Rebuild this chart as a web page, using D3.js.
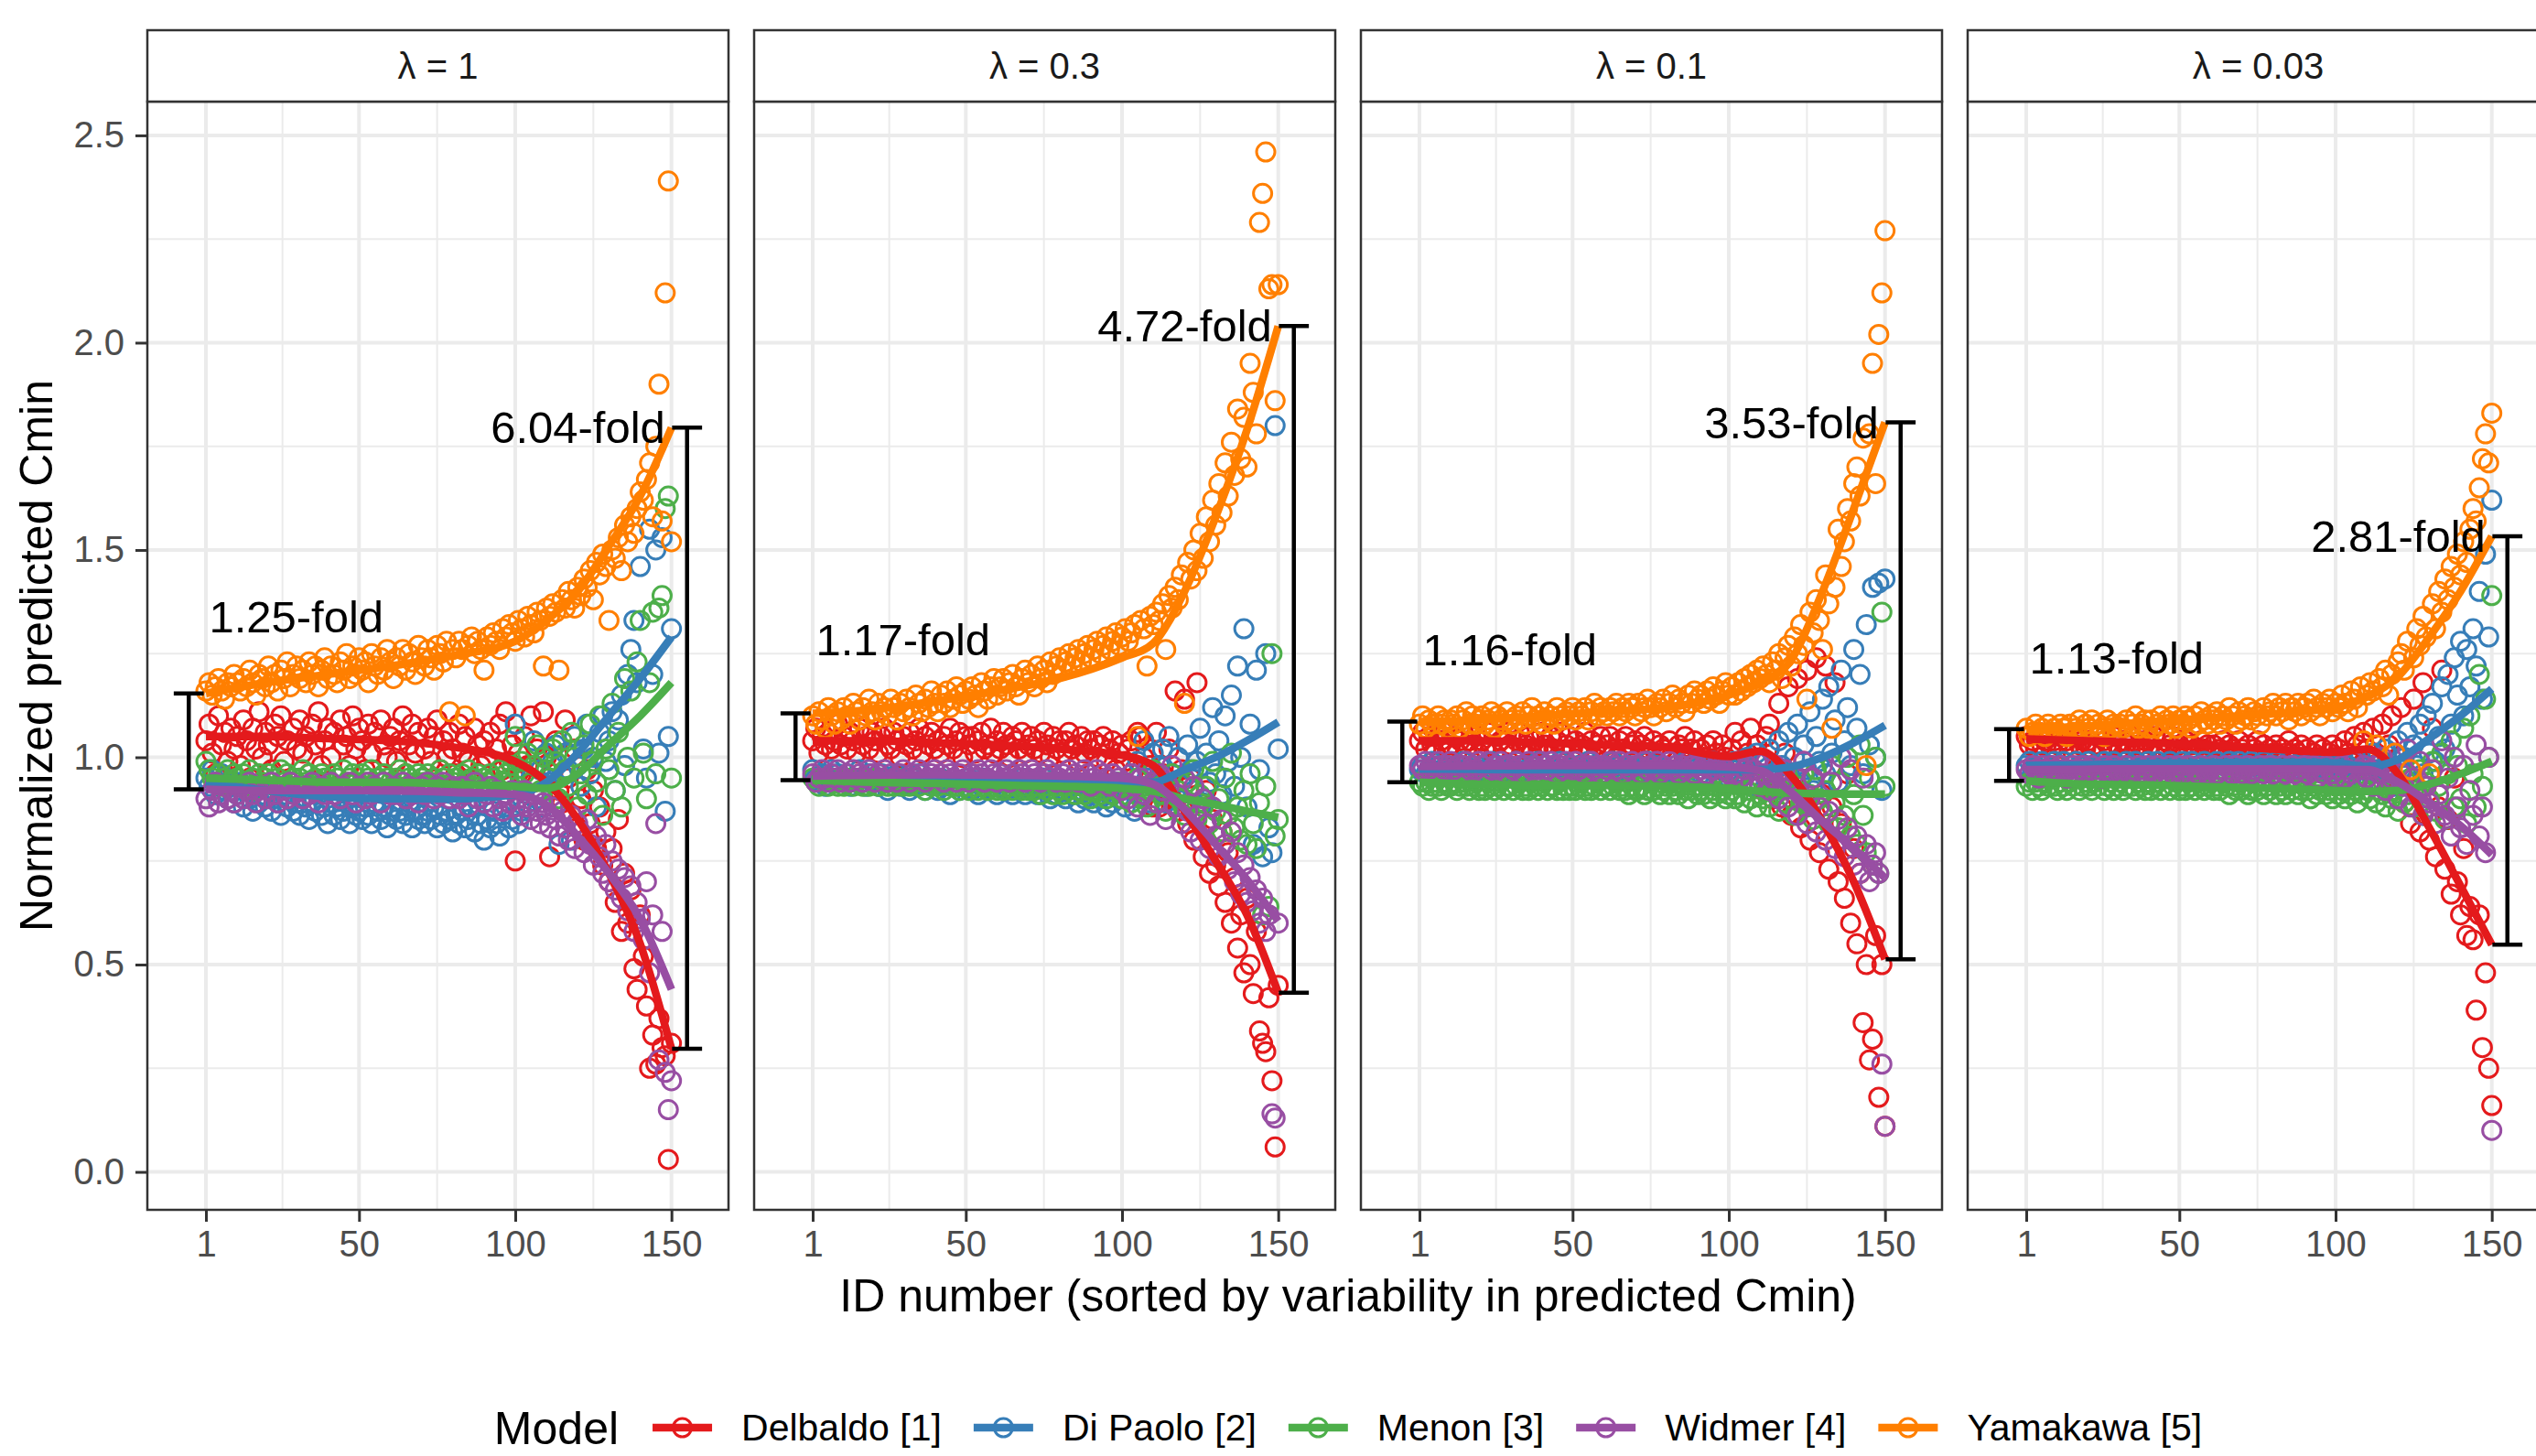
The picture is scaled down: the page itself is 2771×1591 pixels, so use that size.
<!DOCTYPE html>
<html>
<head>
<meta charset="utf-8">
<script src="https://cdn.jsdelivr.net/npm/d3@7"></script>
<style>
  body { margin: 0; background: #fff; }
  svg { display: block; }
  text { font-family: "Liberation Sans", Arial, Helvetica, sans-serif; }
</style>
</head>
<body>
<svg id="chart" width="2771" height="1591"></svg>
<script>

// facets and models
const facetLabels = ['λ = 1', 'λ = 0.3', 'λ = 0.1', 'λ = 0.03'];
const models = ['Delbaldo [1]', 'Di Paolo [2]', 'Menon [3]', 'Widmer [4]', 'Yamakawa [5]'];
const modelColors = ['#E41A1C', '#377EB8', '#4DAF4A', '#984EA3', '#FF7F00'];

// normalized predicted Cmin x100, ID 1..150
// λ = 1
const l1Delbaldo = [104,108,101,96,110,103,106,99,107,102, 105,98,109,104,95,107,102,111,100,106, 103,97,108,105,110,99,104,94,107,102, 109,101,105,96,108,103,111,98,104,107, 100,106,93,109,103,105,98,110,102,107, 104,97,108,101,106,95,109,103,100,105, 107,99,104,110,96,103,108,101,106,93, 102,107,99,105,109,97,104,100,106,102, 96,108,101,105,99,94,107,103,98,104, 100,106,95,102,108,97,111,99,103,75, 101,96,105,98,110,94,102,97,111,100, 76,96,104,92,89,109,95,86,102,83, 90,80,97,84,92,78,88,74,82,70, 78,65,85,58,72,60,68,49,44,62, 52,40,25,33,26,37,30,28,3,31];
const l1DiPaolo = [95,93,97,91,94,96,92,90,93,89, 91,94,88,92,90,87,93,89,91,88, 90,87,92,89,86,91,88,90,87,89, 86,90,88,85,89,87,91,86,88,84, 89,86,88,85,87,90,84,88,86,87, 85,88,86,84,89,87,85,88,83,86, 88,85,87,84,86,89,83,87,85,86, 84,87,85,88,83,86,84,87,85,82, 86,84,87,83,85,88,82,86,84,80, 85,83,87,84,81,86,88,83,85,108, 84,87,92,89,95,104,90,97,88,101, 94,99,103,79,96,101,97,80,105,98, 93,102,108,96,100,88,106,110,99,104, 111,92,109,115,98,120,126,133,118,146, 102,95,155,120,150,101,153,87,105,131];
const l1Menon = [99,97,95,94,96,93,95,97,94,96, 95,93,96,94,97,95,92,96,94,95, 96,94,93,95,97,94,96,93,95,94, 95,97,94,96,93,95,94,96,95,93, 94,96,95,93,97,94,95,96,94,93, 96,94,95,97,93,95,94,96,95,94, 93,95,97,94,96,95,93,94,96,95, 94,96,93,95,94,97,95,93,96,94, 95,93,96,94,97,95,94,96,93,95, 94,96,95,93,97,94,96,95,98,105, 93,99,96,101,94,98,103,92,100,97, 95,102,99,90,104,97,93,106,100,88, 96,103,91,108,99,94,110,86,102,97, 113,92,106,88,119,100,116,95,123,133, 101,90,118,135,96,136,139,160,163,95];
const l1Widmer = [90,88,92,94,89,91,93,90,92,89, 91,93,90,92,94,91,89,92,93,90, 92,94,91,89,93,92,90,94,91,93, 92,90,93,91,94,92,89,93,91,92, 94,91,92,90,93,92,94,91,89,93, 92,90,94,91,93,92,89,94,92,91, 93,91,92,94,90,93,91,92,89,93, 91,94,92,90,93,91,94,92,90,93, 92,90,93,91,88,92,94,90,92,89, 91,93,88,92,90,87,91,89,92,88, 90,86,92,88,85,91,87,84,89,86, 83,88,85,81,87,83,80,86,78,84, 82,77,85,79,74,81,76,72,79,70, 75,68,73,66,71,63,69,58,65,61, 56,70,48,62,84,27,58,24,15,22];
const l1Yamakawa = [116,118,115,117,119,116,114,118,117,120, 118,116,119,117,121,118,115,120,119,117, 122,118,120,116,121,119,123,117,120,122, 119,121,118,123,120,122,117,121,124,119, 122,120,118,123,121,125,119,122,120,124, 121,123,118,125,122,120,124,121,126,123, 119,124,122,126,121,125,123,120,127,124, 122,126,124,121,127,125,123,128,111,126, 124,128,126,110,127,129,125,128,126,121, 129,127,130,128,126,131,129,132,130,128, 133,131,129,134,132,130,135,133,122,136, 134,137,135,121,138,136,140,138,136,141, 139,143,141,145,138,147,144,149,146,133, 150,148,153,145,156,152,158,154,160,164, 162,167,171,158,175,190,157,212,239,152];

// λ = 0.3
const l2Delbaldo = [104,107,101,105,103,106,102,104,108,103, 105,102,106,104,101,107,103,105,102,106, 104,101,105,107,103,102,106,104,100,105, 103,106,102,104,107,101,105,103,106,102, 104,101,105,103,107,102,104,106,100,105, 103,105,101,104,106,102,103,107,101,104, 102,106,103,100,105,104,102,106,101,103, 105,102,104,101,106,103,100,105,102,104, 101,104,106,102,103,99,105,101,104,102, 104,100,103,105,99,102,104,97,101,103, 99,102,104,97,106,105,100,92,98,88, 106,88,96,93,102,90,116,87,97,114, 84,95,80,118,89,76,92,72,85,74, 69,82,65,77,60,71,54,62,48,66, 50,43,58,34,31,29,42,22,6,45];
const l2DiPaolo = [97,95,94,96,93,95,97,94,96,95, 94,96,93,95,94,97,95,93,96,94, 95,93,96,94,92,95,94,96,93,95, 94,92,95,93,96,94,92,95,93,94, 92,95,93,94,91,95,93,92,94,93, 95,92,94,91,93,95,92,94,93,91, 93,95,92,94,91,93,92,95,91,93, 92,94,91,93,95,92,90,93,91,94, 92,90,93,91,94,89,92,90,93,91, 89,92,90,93,88,91,89,94,90,92, 88,93,96,87,99,91,104,95,89,101, 93,98,102,89,105,96,91,100,94,88, 103,97,92,99,107,89,101,94,112,96, 104,91,110,99,115,93,122,100,131,88, 108,79,121,97,76,125,83,77,180,102];
const l2Menon = [95,94,93,95,94,93,95,94,93,94, 93,95,94,93,94,95,93,94,93,95, 94,93,95,94,93,94,93,95,94,93, 94,93,94,95,93,94,92,94,93,94, 93,94,92,94,93,95,93,92,94,93, 92,94,93,92,94,93,92,93,94,92, 93,92,94,93,92,93,94,92,93,92, 94,92,93,91,93,92,94,91,93,92, 91,93,92,94,91,92,93,91,92,90, 92,93,91,92,90,93,91,92,94,90, 91,93,89,92,95,90,93,88,92,97, 89,94,91,87,93,96,88,92,90,86, 94,89,97,85,91,88,93,84,99,87, 90,82,95,86,101,83,88,80,92,79, 96,84,78,89,62,93,64,125,81,85];
const l2Widmer = [96,94,95,97,95,94,96,95,97,94, 95,96,94,97,95,96,94,95,97,96, 94,96,95,97,94,96,95,94,96,97, 95,94,96,95,97,96,94,95,96,97, 95,96,94,97,96,95,94,96,97,95, 94,96,95,97,96,94,95,97,96,94, 96,95,97,94,96,95,97,96,94,95, 97,96,95,94,96,97,95,96,94,95, 96,94,97,95,96,94,95,97,96,93, 95,97,94,96,95,93,96,94,95,92, 94,90,96,93,88,95,91,97,86,94, 89,96,92,85,93,98,88,91,84,95, 87,82,93,86,80,90,84,78,88,81, 76,85,79,73,82,70,77,67,74,65, 71,63,68,60,66,58,62,14,13,60];
const l2Yamakawa = [110,108,111,109,107,112,110,108,111,109, 112,110,108,113,111,109,112,110,114,111, 109,113,111,112,110,114,112,109,113,111, 114,112,110,115,113,111,114,112,116,113, 111,115,113,116,112,114,117,115,113,116, 114,117,115,112,118,116,114,117,119,115, 117,119,116,118,120,117,115,119,121,118, 120,117,122,119,121,118,123,120,122,124, 121,123,125,122,124,126,123,125,127,124, 126,128,125,127,129,126,128,130,127,129, 131,128,130,132,105,133,131,122,134,132, 135,133,137,126,139,136,141,138,144,113, 147,143,150,145,154,148,158,152,162,156, 166,159,171,163,176,168,184,172,182,170, 195,188,178,229,236,246,213,214,186,214];

// λ = 0.1
const l3Delbaldo = [104,106,102,105,103,101,105,104,106,102, 103,105,101,104,106,102,104,103,105,101, 104,102,106,103,101,105,104,102,106,103, 101,104,106,102,103,105,101,104,102,106, 103,101,105,102,104,106,101,103,105,102, 104,101,103,106,102,104,100,103,105,101, 103,105,102,100,104,102,105,101,103,104, 100,103,105,102,101,104,99,103,102,100, 104,101,99,103,102,105,100,102,104,99, 102,100,103,99,104,101,97,103,100,98, 102,106,99,104,96,101,107,94,103,99, 92,105,108,90,97,113,88,101,117,86, 94,119,83,99,121,80,95,124,77,91, 122,73,88,118,70,84,66,96,60,78, 55,72,36,50,27,32,57,18,50,11];
const l3DiPaolo = [97,98,96,97,99,96,98,97,96,98, 97,96,98,97,99,96,97,98,96,97, 98,97,96,99,97,98,96,97,98,96, 97,99,96,98,97,96,98,97,99,96, 98,97,96,98,97,99,96,97,98,96, 97,98,96,97,99,96,98,97,96,98, 96,97,99,96,98,97,96,98,97,95, 98,96,97,99,96,97,98,95,97,96, 97,95,98,96,97,99,95,97,96,98, 96,98,95,97,99,96,94,98,97,95, 97,99,94,98,96,100,93,97,101,95, 99,94,102,96,92,104,98,95,106,93, 100,108,94,103,97,111,92,105,99,114, 96,117,101,109,94,121,104,112,98,126, 107,120,96,132,103,141,100,142,92,143];
const l3Menon = [94,93,94,92,93,94,93,92,94,93, 93,94,92,93,94,93,92,93,94,92, 93,92,94,93,92,93,94,92,93,93, 92,93,94,92,93,92,94,93,92,93, 94,92,93,93,92,94,92,93,92,93, 92,93,94,92,93,92,93,94,92,93, 93,92,93,94,92,93,92,91,93,92, 92,93,91,92,94,92,93,91,92,93, 91,93,92,91,93,92,90,92,93,91, 92,91,93,90,92,91,93,92,90,91, 92,90,91,93,89,92,90,94,88,91, 90,92,88,93,91,87,92,89,95,90, 86,93,89,96,88,91,85,97,90,87, 92,84,98,89,83,94,86,100,81,91, 79,103,86,77,95,74,100,72,135,93];
const l3Widmer = [98,97,99,97,98,96,99,98,97,98, 99,97,98,96,98,99,97,98,97,99, 98,96,99,97,98,97,99,98,96,98, 97,99,98,96,98,99,97,98,97,99, 98,97,99,98,96,98,97,99,98,97, 99,97,98,96,98,99,97,98,96,98, 97,99,98,97,99,96,98,97,99,98, 98,96,99,97,98,97,99,96,98,97, 99,97,98,96,98,97,99,98,96,98, 97,98,96,99,97,98,95,98,97,96, 98,96,99,95,97,98,94,97,99,93, 96,99,92,95,98,90,94,97,88,93, 96,86,91,99,84,90,95,82,88,98, 80,87,94,78,85,100,76,83,97,74, 81,72,95,79,70,74,77,72,26,11];
const l3Yamakawa = [108,110,107,109,108,106,110,108,109,107, 109,108,110,107,109,111,108,110,108,109, 110,108,109,111,107,110,109,108,111,109, 108,110,109,111,108,110,112,109,110,108, 111,109,110,108,112,110,109,111,110,112, 109,111,110,112,109,111,113,110,112,111, 110,112,111,113,110,112,111,113,112,110, 113,111,112,114,112,110,113,112,114,111, 113,115,112,114,113,111,115,113,116,114, 115,113,116,114,117,115,113,116,118,115, 117,115,118,116,119,117,120,118,121,119, 122,120,118,123,121,125,119,124,127,122, 129,125,132,127,114,135,130,138,133,126, 144,137,107,141,155,146,152,160,157,166, 170,163,177,98,178,195,166,202,212,227];

// λ = 0.03
const l4Delbaldo = [105,103,104,102,106,103,104,105,102,104, 103,105,102,104,103,101,105,103,104,102, 104,102,103,105,101,104,103,102,105,103, 102,104,101,103,105,102,103,101,104,102, 103,105,102,101,104,102,103,105,101,103, 102,104,101,103,102,100,104,102,103,101, 103,101,102,104,100,103,102,101,104,102, 101,103,100,102,104,101,103,100,102,101, 103,100,102,101,104,99,102,101,103,100, 102,99,101,103,100,102,98,101,103,100, 102,99,104,101,100,105,103,98,106,102, 99,107,101,97,108,95,103,110,92,100, 112,89,96,84,114,91,82,118,93,80, 107,76,88,121,73,85,67,95,70,62, 78,57,64,56,39,62,30,48,25,16];
const l4DiPaolo = [98,99,97,98,97,99,98,96,98,99, 97,98,99,97,98,96,99,98,97,98, 99,97,98,98,96,99,97,98,99,97, 98,96,99,97,98,99,97,98,96,99, 98,97,99,98,96,98,99,97,98,97, 99,98,97,99,96,98,97,99,98,97, 98,99,97,98,96,99,98,97,99,98, 97,98,99,96,98,97,99,98,97,98, 99,97,98,96,99,98,97,98,99,97, 98,96,99,97,98,97,99,96,98,97, 99,97,96,98,95,99,97,100,94,98, 96,101,97,94,99,102,96,98,93,104, 97,100,106,95,103,98,108,96,110,101, 113,99,105,117,102,120,108,124,115,128, 110,126,117,131,122,140,114,149,129,162];
const l4Menon = [93,94,92,94,93,92,94,93,95,93, 92,94,93,92,94,93,95,92,93,94, 93,92,94,93,95,92,93,94,92,93, 94,92,93,95,93,92,94,93,92,94, 92,93,94,92,93,95,92,93,94,92, 93,92,94,93,92,94,93,92,93,94, 92,93,92,94,93,91,93,92,94,92, 93,91,92,94,92,93,91,93,92,94, 91,93,92,91,93,92,94,91,92,93, 92,90,93,91,92,94,91,92,90,93, 91,92,90,93,91,92,89,93,91,92, 90,93,89,92,91,88,93,90,92,87, 93,89,91,95,88,92,97,86,94,90, 99,87,93,101,85,96,104,88,98,90, 107,84,110,96,88,120,93,114,100,139];
const l4Widmer = [97,96,98,97,95,98,97,96,98,97, 96,98,97,95,97,98,96,97,98,96, 97,98,96,97,95,98,97,96,98,97, 96,97,98,96,97,95,98,97,96,98, 97,96,98,97,95,97,98,96,97,98, 96,97,98,95,97,96,98,97,96,97, 98,96,97,95,98,97,96,98,97,96, 97,98,96,97,95,98,96,97,98,96, 97,95,98,96,97,98,96,97,95,98, 96,97,98,95,97,96,98,97,96,95, 97,98,95,97,96,99,94,97,98,95, 97,93,98,96,100,92,97,95,101,90, 96,93,102,88,95,91,99,86,93,89, 97,84,91,104,86,95,81,100,88,83, 98,79,92,86,103,81,88,77,100,10];
const l4Yamakawa = [107,105,106,108,106,107,105,108,106,107, 106,108,107,105,108,106,107,109,106,108, 107,109,106,108,107,105,109,107,108,106, 108,107,109,106,108,110,107,108,109,107, 109,107,108,110,106,109,108,110,107,109, 108,110,109,107,110,108,111,109,108,110, 109,111,108,110,109,112,110,108,111,109, 110,112,109,111,110,108,112,110,111,113, 110,112,111,113,109,112,111,113,110,112, 113,111,114,112,110,113,112,114,111,113, 112,115,113,111,116,114,112,117,104,115, 118,116,103,119,117,121,115,120,101,123, 125,121,128,97,124,131,127,134,129,96, 137,131,140,135,143,138,146,141,149,144, 152,147,155,160,157,165,172,178,171,183];

// loess fits read at these IDs
const fitIds = [1, 20, 40, 60, 80, 100, 110, 120, 130, 140, 150];
const l1Fit = [
  [1.05, 1.05, 1.045, 1.04, 1.025, 0.99, 0.94, 0.85, 0.72, 0.55, 0.297],
  [0.94, 0.92, 0.905, 0.90, 0.90, 0.91, 0.94, 1.01, 1.10, 1.19, 1.29],
  [0.95, 0.945, 0.94, 0.94, 0.935, 0.93, 0.925, 0.96, 1.03, 1.10, 1.18],
  [0.923, 0.92, 0.92, 0.92, 0.915, 0.91, 0.885, 0.81, 0.72, 0.61, 0.44],
  [1.154, 1.18, 1.20, 1.22, 1.245, 1.28, 1.33, 1.40, 1.51, 1.63, 1.795]
];
const l2Fit = [
  [1.04, 1.04, 1.035, 1.03, 1.02, 1.005, 0.98, 0.87, 0.75, 0.62, 0.432],
  [0.95, 0.949, 0.948, 0.947, 0.945, 0.942, 0.94, 0.97, 1.0, 1.04, 1.085],
  [0.945, 0.94, 0.937, 0.933, 0.93, 0.925, 0.918, 0.90, 0.886, 0.87, 0.855],
  [0.955, 0.957, 0.958, 0.957, 0.955, 0.95, 0.935, 0.875, 0.79, 0.705, 0.605],
  [1.106, 1.115, 1.135, 1.16, 1.19, 1.24, 1.275, 1.40, 1.58, 1.79, 2.04]
];
const l3Fit = [
  [1.04, 1.04, 1.035, 1.03, 1.025, 1.002, 1.015, 0.955, 0.845, 0.70, 0.513],
  [0.972, 0.971, 0.97, 0.97, 0.97, 0.97, 0.97, 0.977, 1.0, 1.035, 1.077],
  [0.94, 0.935, 0.933, 0.932, 0.93, 0.925, 0.918, 0.914, 0.912, 0.911, 0.911],
  [0.978, 0.979, 0.98, 0.98, 0.98, 0.977, 0.968, 0.915, 0.845, 0.78, 0.709],
  [1.086, 1.09, 1.10, 1.11, 1.12, 1.15, 1.18, 1.235, 1.40, 1.60, 1.808]
];
const l4Fit = [
  [1.044, 1.04, 1.035, 1.03, 1.02, 1.012, 1.02, 0.96, 0.83, 0.69, 0.548],
  [0.98, 0.982, 0.985, 0.987, 0.988, 0.986, 0.978, 0.995, 1.045, 1.10, 1.165],
  [0.943, 0.935, 0.933, 0.929, 0.925, 0.92, 0.918, 0.92, 0.935, 0.96, 0.99],
  [0.97, 0.971, 0.972, 0.972, 0.972, 0.971, 0.97, 0.94, 0.89, 0.835, 0.765],
  [1.068, 1.075, 1.085, 1.095, 1.105, 1.12, 1.145, 1.195, 1.29, 1.40, 1.533]
];

// range bars at ID 1 and ID 150
const errLeftLow = [0.923, 0.945, 0.940, 0.943];
const errLeftHigh = [1.154, 1.106, 1.086, 1.068];
const errRightLow = [0.297, 0.432, 0.513, 0.548];
const errRightHigh = [1.795, 2.040, 1.808, 1.533];
const foldLeft = ['1.25', '1.17', '1.16', '1.13'];
const foldRight = ['6.04', '4.72', '3.53', '2.81'];
const errPos = [-4.5, 155];
const errHalf = 4.8;

const yTicks = [0, 0.5, 1, 1.5, 2, 2.5];
const xTicks = [1, 50, 100, 150];

const panelPoints = [
  [l1Delbaldo, l1DiPaolo, l1Menon, l1Widmer, l1Yamakawa],
  [l2Delbaldo, l2DiPaolo, l2Menon, l2Widmer, l2Yamakawa],
  [l3Delbaldo, l3DiPaolo, l3Menon, l3Widmer, l3Yamakawa],
  [l4Delbaldo, l4DiPaolo, l4Menon, l4Widmer, l4Yamakawa]
];
const panelFits = [l1Fit, l2Fit, l3Fit, l4Fit];


let svg = d3.select('#chart');
let panelLeft = 161, panelW = 635, panelGap = 28;
let stripTop = 33, panelTop = 111, panelH = 1211;
let grey20 = '#333333', gridCol = '#EBEBEB';
let ptR = 10, ptStroke = 3, fitWidth = 8.5;

// ggplot style 5% expansion
function expand(ext) {
  let d = (ext[1] - ext[0]) * 0.05;
  return [ext[0] - d, ext[1] + d];
}

let xDom = expand([errPos[0] - errHalf, errPos[1] + errHalf]);
let allY = panelPoints.flat(2).map(v => v / 100);
let yDom = expand(d3.extent(allY));

let x = d3.scaleLinear().domain(xDom).range([0, panelW]);
let y = d3.scaleLinear().domain(yDom).range([panelH, 0]);

let fitLine = d3.line()
  .x((d, i) => x(fitIds[i]))
  .y(d => y(d))
  .curve(d3.curveMonotoneX);

facetLabels.forEach(function (lab, p) {
  let px = panelLeft + p * (panelW + panelGap);
  let g = svg.append('g').attr('transform', 'translate(' + px + ',' + panelTop + ')');

  svg.append('clipPath').attr('id', 'clip' + p)
    .append('rect').attr('width', panelW).attr('height', panelH);

  // grid
  let minorY = d3.range(0.25, 2.6, 0.5);
  let minorX = [25.5, 75, 125];
  g.append('g').selectAll('line').data(minorY).enter().append('line')
    .attr('x1', 0).attr('x2', panelW).attr('y1', d => y(d)).attr('y2', d => y(d))
    .attr('stroke', gridCol).attr('stroke-width', 2);
  g.append('g').selectAll('line').data(minorX).enter().append('line')
    .attr('y1', 0).attr('y2', panelH).attr('x1', d => x(d)).attr('x2', d => x(d))
    .attr('stroke', gridCol).attr('stroke-width', 2);
  g.append('g').selectAll('line').data(yTicks).enter().append('line')
    .attr('x1', 0).attr('x2', panelW).attr('y1', d => y(d)).attr('y2', d => y(d))
    .attr('stroke', gridCol).attr('stroke-width', 4);
  g.append('g').selectAll('line').data(xTicks).enter().append('line')
    .attr('y1', 0).attr('y2', panelH).attr('x1', d => x(d)).attr('x2', d => x(d))
    .attr('stroke', gridCol).attr('stroke-width', 4);

  let inner = g.append('g').attr('clip-path', 'url(#clip' + p + ')');

  // points
  panelPoints[p].forEach(function (vals, m) {
    inner.append('g').selectAll('circle').data(vals).enter().append('circle')
      .attr('cx', (d, i) => x(i + 1))
      .attr('cy', d => y(d / 100))
      .attr('r', ptR)
      .attr('fill', 'none')
      .attr('stroke', modelColors[m])
      .attr('stroke-width', ptStroke);
  });

  // smooth fits
  panelFits[p].forEach(function (vals, m) {
    inner.append('path').datum(vals)
      .attr('d', fitLine)
      .attr('fill', 'none')
      .attr('stroke', modelColors[m])
      .attr('stroke-width', fitWidth)
      .attr('stroke-linecap', 'butt');
  });

  // range bars
  let bars = [
    {xc: errPos[0], lo: errLeftLow[p], hi: errLeftHigh[p]},
    {xc: errPos[1], lo: errRightLow[p], hi: errRightHigh[p]}
  ];
  bars.forEach(function (b) {
    let eb = inner.append('g').attr('stroke', '#000').attr('stroke-width', 4.5);
    eb.append('line').attr('x1', x(b.xc)).attr('x2', x(b.xc)).attr('y1', y(b.lo)).attr('y2', y(b.hi));
    eb.append('line').attr('x1', x(b.xc - errHalf)).attr('x2', x(b.xc + errHalf)).attr('y1', y(b.lo)).attr('y2', y(b.lo));
    eb.append('line').attr('x1', x(b.xc - errHalf)).attr('x2', x(b.xc + errHalf)).attr('y1', y(b.hi)).attr('y2', y(b.hi));
  });

  inner.append('text')
    .attr('x', x(2)).attr('y', y(errLeftHigh[p] * 1.16))
    .attr('dy', '0.35em')
    .attr('font-size', 49).attr('fill', '#000')
    .text(foldLeft[p] + '-fold');
  inner.append('text')
    .attr('x', x(148)).attr('y', y(errRightHigh[p]))
    .attr('dy', '0.35em')
    .attr('text-anchor', 'end')
    .attr('font-size', 49).attr('fill', '#000')
    .text(foldRight[p] + '-fold');

  // panel border
  g.append('rect').attr('width', panelW).attr('height', panelH)
    .attr('fill', 'none').attr('stroke', grey20).attr('stroke-width', 2.5);

  // strip
  let strip = svg.append('g').attr('transform', 'translate(' + px + ',' + stripTop + ')');
  strip.append('rect').attr('width', panelW).attr('height', panelTop - stripTop)
    .attr('fill', '#fff').attr('stroke', grey20).attr('stroke-width', 2.5);
  strip.append('text')
    .attr('x', panelW / 2).attr('y', (panelTop - stripTop) / 2)
    .attr('dy', '0.35em').attr('text-anchor', 'middle')
    .attr('font-size', 40).attr('fill', '#1A1A1A')
    .text(lab);

  // x axis
  let xa = g.append('g').attr('transform', 'translate(0,' + panelH + ')')
    .call(d3.axisBottom(x).tickValues(xTicks).tickSize(13).tickPadding(10).tickFormat(d3.format('d')));
  xa.select('.domain').remove();
  xa.selectAll('line').attr('stroke', grey20).attr('stroke-width', 3);
  xa.selectAll('text').attr('font-size', 40).attr('fill', '#4D4D4D').attr('font-family', null);

  if (p === 0) {
    let ya = g.append('g')
      .call(d3.axisLeft(y).tickValues(yTicks).tickSize(13).tickPadding(12).tickFormat(d3.format('.1f')));
    ya.select('.domain').remove();
    ya.selectAll('line').attr('stroke', grey20).attr('stroke-width', 3);
    ya.selectAll('text').attr('font-size', 40).attr('fill', '#4D4D4D').attr('font-family', null);
  }
});

let plotMid = panelLeft + (4 * panelW + 3 * panelGap) / 2;

// axis titles
svg.append('text')
  .attr('x', plotMid).attr('y', 1415).attr('dy', '0.35em')
  .attr('text-anchor', 'middle').attr('font-size', 50).attr('fill', '#000')
  .text('ID number (sorted by variability in predicted Cmin)');

svg.append('text')
  .attr('transform', 'translate(39,' + (panelTop + panelH / 2) + ') rotate(-90)')
  .attr('dy', '0.35em')
  .attr('text-anchor', 'middle').attr('font-size', 50).attr('fill', '#000')
  .text('Normalized predicted Cmin');

// legend
let legend = svg.append('g');
let lt = legend.append('text').attr('y', 0).attr('dy', '0.35em')
  .attr('font-size', 50).attr('fill', '#000').text('Model');
let cx = lt.node().getComputedTextLength() + 37;
models.forEach(function (m, i) {
  let item = legend.append('g').attr('transform', 'translate(' + cx + ',0)');
  item.append('circle').attr('cx', 32.5).attr('cy', 0).attr('r', ptR)
    .attr('fill', 'none').attr('stroke', modelColors[i]).attr('stroke-width', ptStroke);
  item.append('line').attr('x1', 0).attr('x2', 65).attr('y1', 0).attr('y2', 0)
    .attr('stroke', modelColors[i]).attr('stroke-width', fitWidth);
  let t = item.append('text').attr('x', 97).attr('dy', '0.35em')
    .attr('font-size', 41).attr('fill', '#000').text(m);
  cx += 97 + t.node().getComputedTextLength() + 35;
});
let legW = cx - 35;
legend.attr('transform', 'translate(' + (plotMid - legW / 2) + ',1560)');

</script>
</body>
</html>
